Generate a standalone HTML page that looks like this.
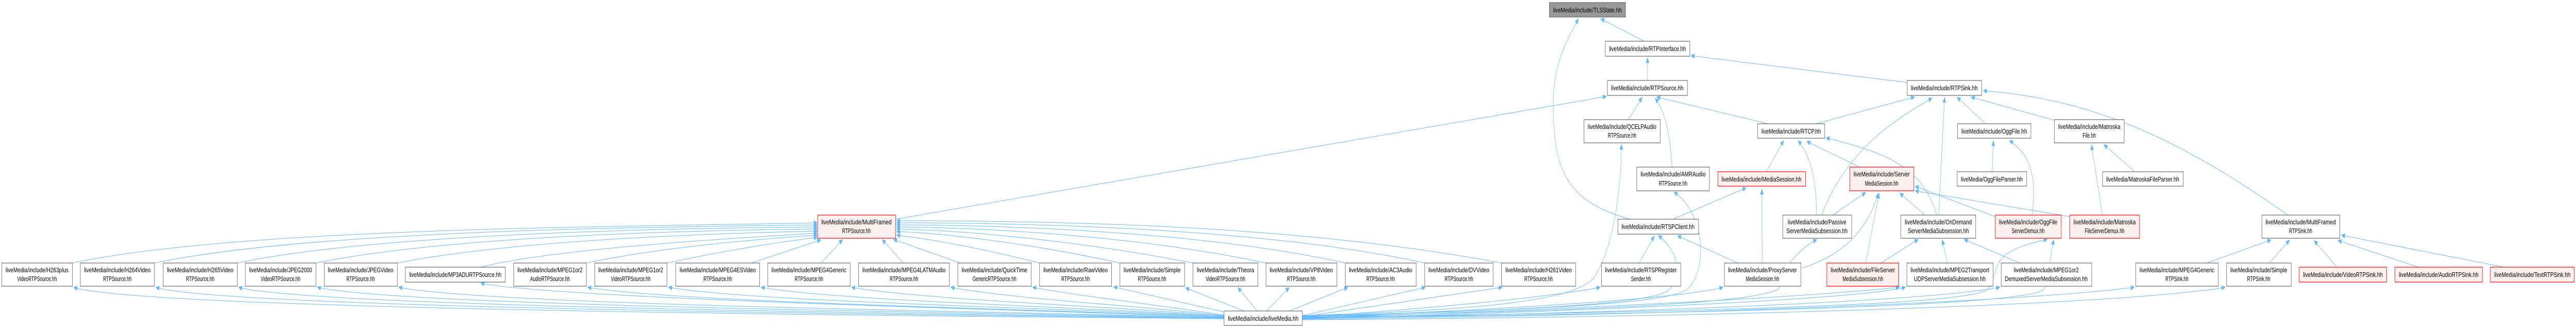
<!DOCTYPE html>
<html><head><meta charset="utf-8"><style>
html,body{margin:0;padding:0;background:#fff;width:100%;height:100%;overflow:hidden;}
svg{display:block;width:100vw;height:100vh;}
text{font-family:"Liberation Sans",sans-serif;font-size:12.5px;fill:#000;}
.n{fill:#fff;stroke:#666;stroke-width:1.2;}
.r{fill:#fff0f0;stroke:#ff0000;stroke-width:1.2;}
.g{fill:#999;stroke:#666;stroke-width:1.2;}
.e{fill:none;stroke:#63b8ff;stroke-width:1;marker-end:url(#a);}
</style></head><body>
<svg viewBox="0 0 7372 636" preserveAspectRatio="none" xmlns="http://www.w3.org/2000/svg">
<defs><marker id="a" markerUnits="userSpaceOnUse" markerWidth="12" markerHeight="10" refX="11" refY="5" orient="auto"><path d="M0,0 L11,5 L0,10 z" fill="#63b8ff"/></marker></defs>

<path class="e" d="M207,510 C700,440 1800,440 2340,432"/>
<path class="e" d="M442,510 C900,445 1900,440 2340,436"/>
<path class="e" d="M679,510 C1100,450 2000,442 2340,440"/>
<path class="e" d="M904,510 C1300,455 2050,446 2340,444"/>
<path class="e" d="M1137,510 C1500,462 2100,452 2340,448"/>
<path class="e" d="M1375,518 C1600,480 2150,460 2340,452"/>
<path class="e" d="M1678,510 C1900,478 2200,462 2340,456"/>
<path class="e" d="M1909,510 C2100,482 2250,468 2340,460"/>
<path class="e" d="M2150,510 L2350,465"/>
<path class="e" d="M2350,510 L2412,464"/>
<path class="e" d="M2585,510 L2524,464"/>
<path class="e" d="M2748,510 L2556,464"/>
<path class="e" d="M2975,510 C2800,480 2650,462 2565,456"/>
<path class="e" d="M3205,510 C2950,472 2700,452 2565,449"/>
<path class="e" d="M3414,510 C3050,462 2720,446 2565,444"/>
<path class="e" d="M3623,510 C3250,456 2800,441 2565,440"/>
<path class="e" d="M3850,510 C3450,450 2900,437 2565,436"/>
<path class="e" d="M4077,510 C3650,446 3000,432 2565,432"/>
<path class="e" d="M4297,510 C3750,440 3100,428 2565,428"/>
<path class="e" d="M2563,425 L4598,187"/>

<path class="e" d="M3503,618 C2500,612 400,600 210,557"/>
<path class="e" d="M3503,617 C2600,610 650,598 445,557"/>
<path class="e" d="M3503,617 C2700,608 900,596 682,557"/>
<path class="e" d="M3503,616 C2800,606 1150,594 907,557"/>
<path class="e" d="M3503,616 C2900,604 1400,592 1140,557"/>
<path class="e" d="M3503,615 C3000,602 1600,580 1375,549"/>
<path class="e" d="M3503,615 C3050,600 1950,588 1681,557"/>
<path class="e" d="M3503,614 C3100,598 2150,586 1912,557"/>
<path class="e" d="M3503,614 C3150,596 2400,584 2177,557"/>
<path class="e" d="M3503,613 C3200,594 2650,582 2436,557"/>
<path class="e" d="M3503,612 C3250,592 2900,580 2720,557"/>
<path class="e" d="M3503,611 C3300,590 3100,575 2954,557"/>
<path class="e" d="M3510,606 L3186,556"/>
<path class="e" d="M3560,603 L3392,558"/>
<path class="e" d="M3598,603 L3542,557"/>
<path class="e" d="M3625,603 L3690,557"/>
<path class="e" d="M3690,603 L3858,557"/>
<path class="e" d="M3727,612 L4080,557"/>
<path class="e" d="M3727,614 L4300,557"/>
<path class="e" d="M3727,615 C4100,598 4450,575 4580,557"/>
<path class="e" d="M3727,616 C4300,600 4800,580 4932,557"/>
<path class="e" d="M3727,617 C4400,602 5100,580 5437,557"/>
<path class="e" d="M3727,618 C4500,604 5300,582 5454,557"/>
<path class="e" d="M3727,618 C4700,606 5500,585 5724,557"/>
<path class="e" d="M3727,619 C4900,610 5800,584 6109,557"/>
<path class="e" d="M3727,620 C5100,614 6100,588 6369,557"/>
<path class="e" d="M3727,612 C4300,600 4500,580 4560,540 C4620,480 4640,360 4640,279"/>
<path class="e" d="M3727,613 C4400,600 4780,590 4830,560 C4880,530 4890,420 4790,372"/>
<path class="e" d="M3727,614 C4400,600 4740,590 4780,560 C4820,520 4790,480 4745,456"/>
<path class="e" d="M3727,615 C4500,602 5020,590 5090,560 C5110,540 5105,500 5200,464"/>
<path class="e" d="M3727,616 C4700,605 5650,595 5690,560 C5730,520 5680,490 5860,464"/>
<path class="e" d="M3727,617 C4800,608 5820,595 5850,560 C5870,530 5865,500 5878,464"/>

<path class="e" d="M4705,80 L4580,36"/>
<path class="e" d="M4665,425 C4480,390 4445,330 4445,200 C4445,120 4490,70 4518,36"/>
<path class="e" d="M4715,156 L4715,111"/>
<path class="e" d="M5458,160 L4838,108"/>
<path class="e" d="M4660,232 L4700,188"/>
<path class="e" d="M4785,324 C4780,270 4770,220 4736,190"/>
<path class="e" d="M5060,240 L4740,188"/>
<path class="e" d="M5197,240 L5480,188"/>
<path class="e" d="M5213,417 C5280,300 5400,240 5530,190"/>
<path class="e" d="M5548,417 L5565,188"/>
<path class="e" d="M5682,240 L5600,188"/>
<path class="e" d="M5878,233 L5640,188"/>
<path class="e" d="M6547,417 C6200,250 5950,190 5675,176"/>
<path class="e" d="M5055,333 L5105,272"/>
<path class="e" d="M5198,417 C5200,350 5180,300 5145,272"/>
<path class="e" d="M5322,324 L5170,274"/>
<path class="e" d="M5542,417 C5500,310 5350,290 5225,267"/>
<path class="e" d="M4788,425 L4998,364"/>
<path class="e" d="M5043,510 L5042,366"/>
<path class="e" d="M5245,417 L5340,373"/>
<path class="e" d="M5155,520 C5300,490 5350,430 5376,374"/>
<path class="e" d="M5339,510 L5378,374"/>
<path class="e" d="M5509,417 L5436,374"/>
<path class="e" d="M5710,420 L5480,361"/>
<path class="e" d="M5923,420 L5480,370"/>
<path class="e" d="M5383,510 L5490,464"/>
<path class="e" d="M5573,510 L5558,464"/>
<path class="e" d="M5781,510 L5620,464"/>
<path class="e" d="M5701,333 L5705,272"/>
<path class="e" d="M5815,417 C5830,340 5810,300 5750,272"/>
<path class="e" d="M6110,333 L6020,280"/>
<path class="e" d="M6017,417 L5985,280"/>
<path class="e" d="M4691,510 L4735,457"/>
<path class="e" d="M4973,510 L4800,457"/>
<path class="e" d="M6315,510 L6500,465"/>
<path class="e" d="M6494,510 L6553,465"/>
<path class="e" d="M6688,518 L6622,466"/>
<path class="e" d="M6921,518 L6690,466"/>
<path class="e" d="M7166,518 L6700,456"/>

<g>
<rect class="g" x="4434" y="5" width="218" height="28"/><text x="4543" y="24" text-anchor="middle" textLength="196" lengthAdjust="spacingAndGlyphs">liveMedia/include/TLSState.hh</text>
<rect class="n" x="4594" y="80" width="242" height="29"/><text x="4715" y="99" text-anchor="middle" textLength="220" lengthAdjust="spacingAndGlyphs">liveMedia/include/RTPInterface.hh</text>
<rect class="n" x="4600" y="156" width="229" height="29"/><text x="4714" y="175" text-anchor="middle" textLength="207" lengthAdjust="spacingAndGlyphs">liveMedia/include/RTPSource.hh</text>
<rect class="n" x="5458" y="156" width="213" height="29"/><text x="5564" y="175" text-anchor="middle" textLength="191" lengthAdjust="spacingAndGlyphs">liveMedia/include/RTPSink.hh</text>
<rect class="n" x="4533" y="232" width="218" height="45"/><text x="4642" y="250" text-anchor="middle" textLength="196" lengthAdjust="spacingAndGlyphs">liveMedia/include/QCELPAudio</text><text x="4642" y="267" text-anchor="middle">RTPSource.hh</text>
<rect class="n" x="5030" y="240" width="192" height="28"/><text x="5126" y="259" text-anchor="middle" textLength="170" lengthAdjust="spacingAndGlyphs">liveMedia/include/RTCP.hh</text>
<rect class="n" x="5602" y="240" width="210" height="28"/><text x="5707" y="259" text-anchor="middle" textLength="188" lengthAdjust="spacingAndGlyphs">liveMedia/include/OggFile.hh</text>
<rect class="n" x="5879" y="232" width="200" height="45"/><text x="5979" y="250" text-anchor="middle" textLength="178" lengthAdjust="spacingAndGlyphs">liveMedia/include/Matroska</text><text x="5979" y="267" text-anchor="middle">File.hh</text>
<rect class="n" x="4684" y="324" width="208" height="46"/><text x="4788" y="342" text-anchor="middle" textLength="186" lengthAdjust="spacingAndGlyphs">liveMedia/include/AMRAudio</text><text x="4788" y="360" text-anchor="middle">RTPSource.hh</text>
<rect class="r" x="4916" y="333" width="251" height="28"/><text x="5041" y="352" text-anchor="middle" textLength="229" lengthAdjust="spacingAndGlyphs">liveMedia/include/MediaSession.hh</text>
<rect class="r" x="5294" y="324" width="183" height="46"/><text x="5385" y="342" text-anchor="middle" textLength="161" lengthAdjust="spacingAndGlyphs">liveMedia/include/Server</text><text x="5385" y="360" text-anchor="middle">MediaSession.hh</text>
<rect class="n" x="5601" y="333" width="199" height="28"/><text x="5700" y="352" text-anchor="middle" textLength="177" lengthAdjust="spacingAndGlyphs">liveMedia/OggFileParser.hh</text>
<rect class="n" x="6017" y="333" width="231" height="28"/><text x="6132" y="352" text-anchor="middle" textLength="209" lengthAdjust="spacingAndGlyphs">liveMedia/MatroskaFileParser.hh</text>
<rect class="r" x="2340" y="417" width="223" height="45"/><text x="2451" y="435" text-anchor="middle" textLength="201" lengthAdjust="spacingAndGlyphs">liveMedia/include/MultiFramed</text><text x="2451" y="452" text-anchor="middle">RTPSource.hh</text>
<rect class="n" x="4630" y="425" width="231" height="29"/><text x="4745" y="444" text-anchor="middle" textLength="209" lengthAdjust="spacingAndGlyphs">liveMedia/include/RTSPClient.hh</text>
<rect class="n" x="5102" y="417" width="197" height="45"/><text x="5200" y="435" text-anchor="middle" textLength="168" lengthAdjust="spacingAndGlyphs">liveMedia/include/Passive</text><text x="5200" y="452" text-anchor="middle" textLength="175" lengthAdjust="spacingAndGlyphs">ServerMediaSubsession.hh</text>
<rect class="n" x="5440" y="417" width="214" height="45"/><text x="5547" y="435" text-anchor="middle" textLength="192" lengthAdjust="spacingAndGlyphs">liveMedia/include/OnDemand</text><text x="5547" y="452" text-anchor="middle" textLength="175" lengthAdjust="spacingAndGlyphs">ServerMediaSubsession.hh</text>
<rect class="r" x="5710" y="417" width="189" height="45"/><text x="5804" y="435" text-anchor="middle" textLength="167" lengthAdjust="spacingAndGlyphs">liveMedia/include/OggFile</text><text x="5804" y="452" text-anchor="middle">ServerDemux.hh</text>
<rect class="r" x="5923" y="417" width="200" height="45"/><text x="6023" y="435" text-anchor="middle" textLength="178" lengthAdjust="spacingAndGlyphs">liveMedia/include/Matroska</text><text x="6023" y="452" text-anchor="middle">FileServerDemux.hh</text>
<rect class="n" x="6473" y="417" width="223" height="45"/><text x="6584" y="435" text-anchor="middle" textLength="201" lengthAdjust="spacingAndGlyphs">liveMedia/include/MultiFramed</text><text x="6584" y="452" text-anchor="middle">RTPSink.hh</text>

<rect class="n" x="5" y="510" width="202" height="45"/><text x="106" y="528" text-anchor="middle" textLength="180" lengthAdjust="spacingAndGlyphs">liveMedia/include/H263plus</text><text x="106" y="545" text-anchor="middle">VideoRTPSource.hh</text>
<rect class="n" x="230" y="510" width="212" height="45"/><text x="336" y="528" text-anchor="middle" textLength="190" lengthAdjust="spacingAndGlyphs">liveMedia/include/H264Video</text><text x="336" y="545" text-anchor="middle">RTPSource.hh</text>
<rect class="n" x="467" y="510" width="212" height="45"/><text x="573" y="528" text-anchor="middle" textLength="190" lengthAdjust="spacingAndGlyphs">liveMedia/include/H265Video</text><text x="573" y="545" text-anchor="middle">RTPSource.hh</text>
<rect class="n" x="702" y="510" width="202" height="45"/><text x="803" y="528" text-anchor="middle" textLength="180" lengthAdjust="spacingAndGlyphs">liveMedia/include/JPEG2000</text><text x="803" y="545" text-anchor="middle">VideoRTPSource.hh</text>
<rect class="n" x="928" y="510" width="209" height="45"/><text x="1032" y="528" text-anchor="middle" textLength="187" lengthAdjust="spacingAndGlyphs">liveMedia/include/JPEGVideo</text><text x="1032" y="545" text-anchor="middle">RTPSource.hh</text>
<rect class="n" x="1160" y="518" width="286" height="29"/><text x="1303" y="537" text-anchor="middle" textLength="264" lengthAdjust="spacingAndGlyphs">liveMedia/include/MP3ADURTPSource.hh</text>
<rect class="n" x="1470" y="510" width="208" height="45"/><text x="1574" y="528" text-anchor="middle" textLength="186" lengthAdjust="spacingAndGlyphs">liveMedia/include/MPEG1or2</text><text x="1574" y="545" text-anchor="middle">AudioRTPSource.hh</text>
<rect class="n" x="1702" y="510" width="207" height="45"/><text x="1805" y="528" text-anchor="middle" textLength="185" lengthAdjust="spacingAndGlyphs">liveMedia/include/MPEG1or2</text><text x="1805" y="545" text-anchor="middle">VideoRTPSource.hh</text>
<rect class="n" x="1934" y="510" width="240" height="45"/><text x="2054" y="528" text-anchor="middle" textLength="218" lengthAdjust="spacingAndGlyphs">liveMedia/include/MPEG4ESVideo</text><text x="2054" y="545" text-anchor="middle">RTPSource.hh</text>
<rect class="n" x="2197" y="510" width="236" height="45"/><text x="2315" y="528" text-anchor="middle" textLength="214" lengthAdjust="spacingAndGlyphs">liveMedia/include/MPEG4Generic</text><text x="2315" y="545" text-anchor="middle">RTPSource.hh</text>
<rect class="n" x="2457" y="510" width="260" height="45"/><text x="2587" y="528" text-anchor="middle" textLength="238" lengthAdjust="spacingAndGlyphs">liveMedia/include/MPEG4LATMAudio</text><text x="2587" y="545" text-anchor="middle">RTPSource.hh</text>
<rect class="n" x="2741" y="510" width="210" height="45"/><text x="2846" y="528" text-anchor="middle" textLength="188" lengthAdjust="spacingAndGlyphs">liveMedia/include/QuickTime</text><text x="2846" y="545" text-anchor="middle">GenericRTPSource.hh</text>
<rect class="n" x="2975" y="510" width="206" height="45"/><text x="3078" y="528" text-anchor="middle" textLength="184" lengthAdjust="spacingAndGlyphs">liveMedia/include/RawVideo</text><text x="3078" y="545" text-anchor="middle">RTPSource.hh</text>
<rect class="n" x="3205" y="510" width="185" height="45"/><text x="3297" y="528" text-anchor="middle" textLength="163" lengthAdjust="spacingAndGlyphs">liveMedia/include/Simple</text><text x="3297" y="545" text-anchor="middle">RTPSource.hh</text>
<rect class="n" x="3414" y="510" width="186" height="45"/><text x="3507" y="528" text-anchor="middle" textLength="164" lengthAdjust="spacingAndGlyphs">liveMedia/include/Theora</text><text x="3507" y="545" text-anchor="middle">VideoRTPSource.hh</text>
<rect class="n" x="3623" y="510" width="203" height="45"/><text x="3724" y="528" text-anchor="middle" textLength="181" lengthAdjust="spacingAndGlyphs">liveMedia/include/VP8Video</text><text x="3724" y="545" text-anchor="middle">RTPSource.hh</text>
<rect class="n" x="3850" y="510" width="203" height="45"/><text x="3951" y="528" text-anchor="middle" textLength="181" lengthAdjust="spacingAndGlyphs">liveMedia/include/AC3Audio</text><text x="3951" y="545" text-anchor="middle">RTPSource.hh</text>
<rect class="n" x="4077" y="510" width="196" height="45"/><text x="4175" y="528" text-anchor="middle" textLength="174" lengthAdjust="spacingAndGlyphs">liveMedia/include/DVVideo</text><text x="4175" y="545" text-anchor="middle">RTPSource.hh</text>
<rect class="n" x="4297" y="510" width="212" height="45"/><text x="4403" y="528" text-anchor="middle" textLength="190" lengthAdjust="spacingAndGlyphs">liveMedia/include/H261Video</text><text x="4403" y="545" text-anchor="middle">RTPSource.hh</text>
<rect class="n" x="4583" y="510" width="227" height="45"/><text x="4696" y="528" text-anchor="middle" textLength="205" lengthAdjust="spacingAndGlyphs">liveMedia/include/RTSPRegister</text><text x="4696" y="545" text-anchor="middle">Sender.hh</text>
<rect class="n" x="4935" y="510" width="219" height="45"/><text x="5044" y="528" text-anchor="middle" textLength="197" lengthAdjust="spacingAndGlyphs">liveMedia/include/ProxyServer</text><text x="5044" y="545" text-anchor="middle">MediaSession.hh</text>
<rect class="r" x="5228" y="510" width="206" height="45"/><text x="5331" y="528" text-anchor="middle" textLength="184" lengthAdjust="spacingAndGlyphs">liveMedia/include/FileServer</text><text x="5331" y="545" text-anchor="middle">MediaSubsession.hh</text>
<rect class="n" x="5457" y="510" width="247" height="45"/><text x="5580" y="528" text-anchor="middle" textLength="225" lengthAdjust="spacingAndGlyphs">liveMedia/include/MPEG2Transport</text><text x="5580" y="545" text-anchor="middle" textLength="205" lengthAdjust="spacingAndGlyphs">UDPServerMediaSubsession.hh</text>
<rect class="n" x="5727" y="510" width="259" height="45"/><text x="5856" y="528" text-anchor="middle" textLength="186" lengthAdjust="spacingAndGlyphs">liveMedia/include/MPEG1or2</text><text x="5856" y="545" text-anchor="middle" textLength="237" lengthAdjust="spacingAndGlyphs">DemuxedServerMediaSubsession.hh</text>
<rect class="n" x="6112" y="510" width="236" height="45"/><text x="6230" y="528" text-anchor="middle" textLength="214" lengthAdjust="spacingAndGlyphs">liveMedia/include/MPEG4Generic</text><text x="6230" y="545" text-anchor="middle">RTPSink.hh</text>
<rect class="n" x="6372" y="510" width="185" height="45"/><text x="6464" y="528" text-anchor="middle" textLength="163" lengthAdjust="spacingAndGlyphs">liveMedia/include/Simple</text><text x="6464" y="545" text-anchor="middle">RTPSink.hh</text>
<rect class="r" x="6580" y="518" width="250" height="29"/><text x="6705" y="537" text-anchor="middle" textLength="228" lengthAdjust="spacingAndGlyphs">liveMedia/include/VideoRTPSink.hh</text>
<rect class="r" x="6854" y="518" width="250" height="29"/><text x="6979" y="537" text-anchor="middle" textLength="228" lengthAdjust="spacingAndGlyphs">liveMedia/include/AudioRTPSink.hh</text>
<rect class="r" x="7127" y="518" width="240" height="29"/><text x="7247" y="537" text-anchor="middle" textLength="218" lengthAdjust="spacingAndGlyphs">liveMedia/include/TextRTPSink.hh</text>

<rect class="n" x="3503" y="603" width="224" height="28"/><text x="3615" y="622" text-anchor="middle" textLength="202" lengthAdjust="spacingAndGlyphs">liveMedia/include/liveMedia.hh</text>
</g>
</svg>
</body></html>
